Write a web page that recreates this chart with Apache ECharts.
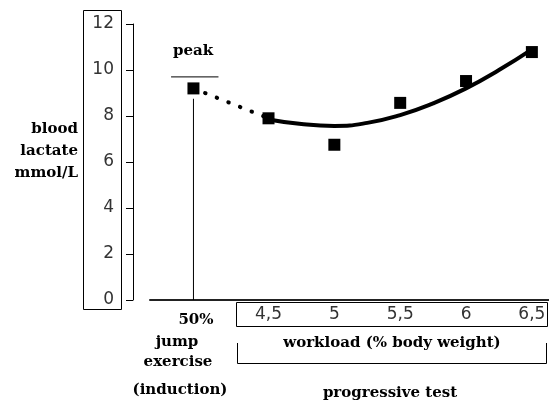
<!DOCTYPE html>
<html>
<head>
<meta charset="utf-8">
<script src="https://cdn.jsdelivr.net/npm/echarts@6/dist/echarts.min.js"></script>
<style>
  html, body { margin: 0; padding: 0; background: #fff; }
  #chart { width: 549px; height: 405px; }
</style>
</head>
<body>
<div id="chart"></div>
<script>
// measured points of the progressive test
const workload = [4.5, 5, 5.5, 6, 6.5]
const lactate = [7.9, 6.75, 8.57, 9.52, 10.78]
// trend curve
const trendX = [4.5, 4.75, 5, 5.25, 5.5, 5.75, 6, 6.25, 6.5]
const trendY = [7.85, 7.65, 7.57, 7.7, 8.04, 8.55, 9.2, 10.0, 10.9]
// peak after jump exercise (induction)
const peakX = 3.93
const peakY = 9.2
const peakStemTop = 8.75
const peakBarY = 9.7
const peakBarX = [3.76, 4.12]
const xTicks = [4.5, 5, 5.5, 6, 6.5]

const serif = '"DejaVu Serif", "Liberation Serif", serif'
const sans = '"DejaVu Sans", "Liberation Sans", sans-serif'

const chart = echarts.init(document.getElementById('chart'))

function txt(x, y, text, align) {
    return {
        type: 'text',
        x: x, y: y,
        style: {
            text: text,
            fill: '#000',
            font: 'bold 15px ' + serif,
            align: align || 'center',
            verticalAlign: 'middle'
        }
    }
}

const options = {
    animation: false,
    backgroundColor: '#fff',
    grid: { left: 150, right: 0, top: 24, bottom: 105 },
    xAxis: {
        type: 'value',
        min: 3.6,
        max: 6.63,
        axisLine: { show: true, lineStyle: { color: '#222', width: 2 } },
        axisTick: { show: false },
        splitLine: { show: false },
        axisLabel: {
            customValues: xTicks,
            margin: 6,
            color: '#333',
            fontFamily: sans,
            fontSize: 17,
            formatter: v => String(v).replace('.', ',')
        }
    },
    yAxis: {
        type: 'value',
        min: 0,
        max: 12,
        interval: 2,
        offset: 17,
        axisLine: { show: true, lineStyle: { color: '#000', width: 1 } },
        axisTick: { show: true, length: 7, lineStyle: { color: '#000' } },
        splitLine: { show: false },
        axisLabel: {
            margin: 19,
            color: '#333',
            fontFamily: sans,
            fontSize: 17
        }
    },
    series: [
        {
            name: 'trend',
            type: 'line',
            smooth: true,
            symbol: 'none',
            lineStyle: { color: '#000', width: 4 },
            data: trendX.map((x, i) => [x, trendY[i]]),
            z: 2
        },
        {
            name: 'connector',
            type: 'line',
            symbol: 'none',
            lineStyle: { color: '#000', width: 4, type: [0.5, 12], cap: 'round' },
            data: [[peakX, peakY], [workload[0], lactate[0]]],
            z: 1
        },
        {
            name: 'stem',
            type: 'line',
            symbol: 'none',
            lineStyle: { color: '#000', width: 1 },
            data: [[peakX, 0], [peakX, peakStemTop]],
            z: 1
        },
        {
            name: 'peakBar',
            type: 'line',
            symbol: 'none',
            lineStyle: { color: '#000', width: 1 },
            data: peakBarX.map(x => [x, peakBarY]),
            z: 1
        },
        {
            name: 'measured',
            type: 'scatter',
            symbol: 'rect',
            symbolSize: 12,
            itemStyle: { color: '#000', opacity: 1 },
            data: workload.map((x, i) => [x, lactate[i]]).concat([[peakX, peakY]]),
            z: 3
        }
    ],
    graphic: [
        // box round the y labels
        { type: 'rect', shape: { x: 83.5, y: 10.5, width: 38, height: 299 },
          style: { fill: 'none', stroke: '#000', lineWidth: 1 } },
        // box round the x labels
        { type: 'rect', shape: { x: 236.5, y: 302.5, width: 311, height: 24 },
          style: { fill: 'none', stroke: '#000', lineWidth: 1 } },
        // bracket under workload
        { type: 'polyline', shape: { points: [[237.5, 343], [237.5, 363.5], [546.5, 363.5], [546.5, 343]] },
          style: { fill: 'none', stroke: '#000', lineWidth: 1 } },
        txt(193, 51, 'peak'),
        txt(78, 129, 'blood', 'right'),
        txt(78, 151, 'lactate', 'right'),
        txt(78, 173, 'mmol/L', 'right'),
        txt(196, 320, '50%'),
        txt(177, 342, 'jump'),
        txt(178, 362, 'exercise'),
        txt(180, 390, '(induction)'),
        txt(392, 343, 'workload (% body weight)'),
        txt(390, 393, 'progressive test')
    ]
}
chart.setOption(options)
</script>
</body>
</html>
